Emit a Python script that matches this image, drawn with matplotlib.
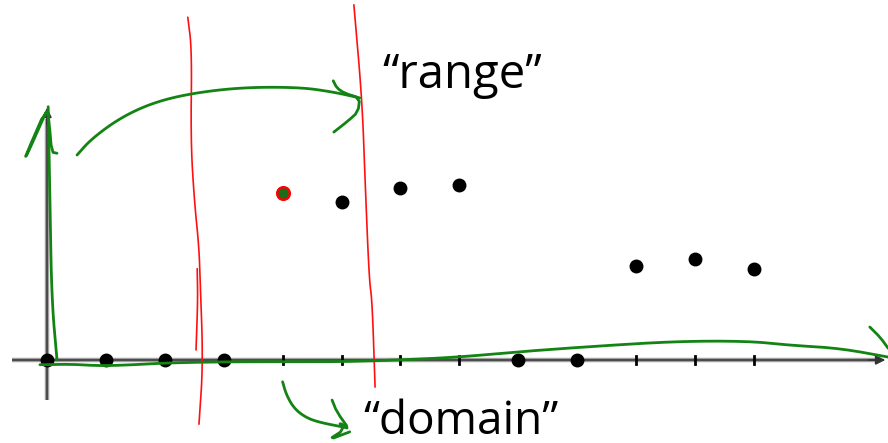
import numpy as np
import matplotlib
matplotlib.use("Agg")
import matplotlib.pyplot as plt

# points sitting on the axis (value 0) and points lifted above it
on_axis_x = [0, 1, 2, 3, 8, 9]
lifted_x = [4, 5, 6, 7, 10, 11, 12]
lifted_y = [2.84, 2.68, 2.92, 2.97, 1.60, 1.71, 1.55]
tick_x = [4, 5, 6, 7, 10, 11, 12]
marked_x = 4  # the dot circled in red

# hand drawn strokes, in the chart's own units
red_left = [(2.39, 5.82), (2.46, 5.26), (2.44, 3.74), (2.50, 2.72), (2.58, 1.92),
            (2.60, 1.36), (2.65, -0.05), (2.58, -1.09)]
red_left_short = [(2.55, 1.55), (2.56, 1.02), (2.53, 0.17)]
red_right = [(5.21, 6.03), (5.35, 4.41), (5.40, 3.06), (5.47, 1.36), (5.52, 1.02), (5.57, -0.46)]

green_up = [(0.17, 0.0), (0.08, 1.02), (0.05, 2.72), (0.02, 4.30)]
green_up_head = [(-0.02, 4.20), (-0.34, 3.48), (-0.37, 3.45), (0.0, 4.30), (0.04, 4.0), (0.08, 3.53), (0.17, 3.51)]
range_arc = [(0.51, 3.48), (0.75, 3.75), (1.24, 4.11), (1.80, 4.37), (2.46, 4.53), (3.33, 4.63),
             (4.30, 4.63), (4.86, 4.55), (5.31, 4.45)]
range_head = [(4.86, 4.74), (4.92, 4.62), (5.05, 4.53), (5.31, 4.45), (5.28, 4.21), (5.10, 4.05), (4.87, 3.87)]
green_along = [(-0.12, -0.08), (0.40, -0.07), (0.90, -0.10), (1.50, -0.08), (2.00, -0.05), (3.0, -0.03),
               (4.0, -0.03), (4.97, -0.03), (5.99, 0.0), (7.01, 0.05), (8.0, 0.14), (9.39, 0.24),
               (10.75, 0.32), (11.94, 0.32), (12.61, 0.25), (13.46, 0.20), (14.28, 0.05)]
along_head = [(13.97, 0.56), (14.15, 0.38), (14.28, 0.20)]
domain_arc = [(4.0, -0.37), (4.06, -0.58), (4.18, -0.80), (4.35, -0.95), (4.58, -1.05), (5.09, -1.15)]
domain_head = [(4.84, -0.68), (4.92, -0.88), (5.14, -1.19), (4.95, -1.05), (5.05, -1.18), (4.77, -1.36), (5.14, -1.22)]


def soften(pts, n=3):
    # chaikin corner cutting so pen strokes look less jagged
    p = np.array(pts, dtype=float)
    for _ in range(n):
        q = 0.75 * p[:-1] + 0.25 * p[1:]
        r = 0.25 * p[:-1] + 0.75 * p[1:]
        mid = np.empty((2 * len(q), 2))
        mid[0::2] = q
        mid[1::2] = r
        p = np.vstack([p[:1], mid, p[-1:]])
    return p[:, 0], p[:, 1]


unit = 58.9
fig = plt.figure(figsize=(8.88, 4.43), dpi=100)
ax = fig.add_axes([0, 0, 1, 1])
ax.set_xlim(-47 / unit, (888 - 47) / unit)
ax.set_ylim(-(443 - 360) / unit, 360 / unit)
ax.axis("off")

# axes in grey
ax.plot([-0.59, 14.1], [0, 0], color="#a0a0a0", lw=3.2, solid_capstyle="butt", zorder=1)
ax.plot([-0.59, 14.1], [0, 0], color="#4a4a4a", lw=1.4, solid_capstyle="butt", zorder=1)
ax.plot([0, 0], [-0.68, 4.1], color="#a0a0a0", lw=3.2, solid_capstyle="butt", zorder=1)
ax.plot([0, 0], [-0.68, 4.1], color="#4a4a4a", lw=1.4, solid_capstyle="butt", zorder=1)
ax.annotate("", xy=(14.28, 0), xytext=(13.9, 0),
            arrowprops=dict(arrowstyle="-|>", color="#333333", lw=1.2, mutation_scale=14), zorder=1)
ax.annotate("", xy=(0, 4.33), xytext=(0, 3.95),
            arrowprops=dict(arrowstyle="-|>", color="#333333", lw=1.2, mutation_scale=14), zorder=1)

for t in tick_x:
    ax.plot([t, t], [-0.07, 0.07], color="black", lw=2, zorder=2)

ax.plot(on_axis_x, np.zeros(len(on_axis_x)), "o", color="black", ms=9, zorder=3)
ax.plot(lifted_x, lifted_y, "o", color="black", ms=9, zorder=3)
my = lifted_y[lifted_x.index(marked_x)]
ax.plot([marked_x], [my], "o", color="#1a6b1a", mec="red", mew=1.8, ms=9, zorder=4)

for stroke in [red_left, red_left_short, red_right]:
    xs, ys = soften(stroke)
    ax.plot(xs, ys, color="#ff1010", lw=1.2, zorder=5, solid_capstyle="round")

for stroke in [green_up, range_arc, green_along, domain_arc]:
    xs, ys = soften(stroke)
    ax.plot(xs, ys, color="#138413", lw=2.0, zorder=6, solid_capstyle="round", solid_joinstyle="round")
for stroke in [green_up_head, range_head, along_head, domain_head]:
    xs, ys = soften(stroke, 1)
    ax.plot(xs, ys, color="#138413", lw=2.0, zorder=6, solid_capstyle="round", solid_joinstyle="round")

ax.text(5.70, 4.62, "\u201crange\u201d", fontsize=34, family="Open Sans", va="baseline", ha="left", color="black")
ax.text(5.37, -1.25, "\u201cdomain\u201d", fontsize=33, family="Open Sans", va="baseline", ha="left", color="black")

fig.savefig("out.png", dpi=100)
